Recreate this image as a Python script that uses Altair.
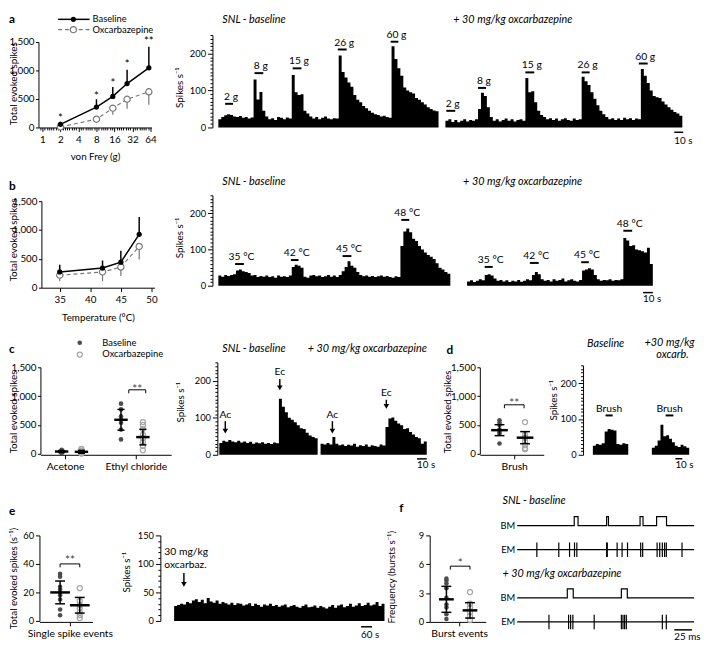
import altair as alt
import pandas as pd

FONT = "Lato"
NARROW = "Liberation Sans Narrow, Lato"
DARK = "#4d4d4d"
LIGHT = "#a6a6a6"
OXL = "#777777"

# ================= DATA =================
# (a) von Frey summary
vf_force = [2, 8, 15, 26, 60]
vf_base = [55, 357, 545, 770, 1046]
vf_base_hi = [100, 495, 712, 1012, 1414]
vf_oxc = [10, 145, 339, 495, 626]
vf_oxc_lo = [0, 95, 224, 328, 397]
vf_star_y = [195, 580, 810, 1143, 1546]
vf_star = ["*", "*", "*", "*", "**"]

# (a) von Frey traces (spikes/s, ~3 s bins)
vf_trace_base = [22, 28, 33, 36, 34, 30, 28, 31, 26, 28, 24, 27,
                 130, 76, 96, 45, 30,
                 22, 25, 20, 28, 26, 22, 27, 24,
                 142, 95, 88, 90, 45, 38, 30,
                 24, 28, 22, 26, 30, 24, 22, 25, 24,
                 195, 150, 135, 122, 110, 88, 75, 68, 58, 52, 45, 40, 36, 34, 30, 32, 28, 26,
                 220, 185, 160, 140, 108, 100, 95, 92, 80, 75, 68, 62, 55, 50, 46, 44]
vf_trace_oxc = [18, 22, 15, 20, 14, 18, 22, 16, 20, 18, 22,
                50, 94, 85, 55, 28,
                18, 22, 16, 20, 24, 18, 22, 16, 20, 22, 18,
                134, 95, 98, 68, 45, 34, 28,
                22, 25, 20, 24, 18, 22, 25, 20, 18, 24, 20, 22,
                137, 125, 115, 95, 78, 60, 45, 36, 28,
                22, 25, 20, 24, 20, 26, 22, 25, 20, 24, 22,
                158, 140, 120, 100, 85, 82, 80, 70, 62, 55, 48, 42, 38, 32]
vf_stim_lab = ["2 g", "8 g", "15 g", "26 g", "60 g"]
vf_stim_base_x0 = [2.3, 12.3, 25.3, 40.7, 58.7]
vf_stim_base_x1 = [5.0, 15.3, 28.3, 43.7, 61.3]
vf_stim_base_y = [64, 147, 160, 211, 232]
vf_stim_oxc_x0 = [0.3, 11.0, 27.0, 46.0, 65.3]
vf_stim_oxc_x1 = [3.3, 13.7, 30.0, 48.7, 68.3]
vf_stim_oxc_y = [45, 107, 149, 149, 173]

# (b) heat summary
heat_temp = [35, 42, 45, 48]
heat_base = [273, 341, 443, 926]
heat_base_hi = [398, 472, 642, 1227]
heat_oxc = [216, 273, 358, 716]
heat_oxc_lo = [114, 114, 205, 489]

# (b) heat traces
heat_trace_base = [28, 25, 30, 27, 30, 32,
                   42, 45, 40, 38, 35,
                   28, 30, 24, 27, 25, 28, 24, 26, 22, 28, 25, 26, 24, 28,
                   52, 58, 55, 50,
                   25, 22, 28, 30, 26, 28, 24, 26, 30, 25, 28, 24, 30,
                   40, 52, 68, 55, 50, 38,
                   30, 26, 28, 25, 27, 24, 26, 28, 25, 27, 24, 22, 26, 24,
                   110, 150, 158, 148, 130, 124, 110, 100, 92, 85, 80, 74, 62, 50, 45, 38, 33]
heat_trace_oxc = [12, 15, 10, 14, 18, 15,
                  30, 32, 28, 20,
                  14, 16, 12, 15, 10, 14, 12, 16, 11, 14, 18, 15,
                  30, 38, 32,
                  18, 14, 16, 12, 18, 14, 16, 20, 12, 15, 18, 14, 12, 16,
                  42, 45, 48, 45, 30,
                  18, 14, 16, 15, 18, 14, 16, 15, 18,
                  132, 125, 110, 112, 100, 98, 95, 92, 105, 60]
heat_stim_lab = ["35 °C", "42 °C", "45 °C", "48 °C"]
heat_stim_base_x0 = [5.7, 24.7, 42.3, 62.3]
heat_stim_base_x1 = [8.7, 27.3, 45.3, 65.0]
heat_stim_base_y = [60, 71, 82, 182]
heat_stim_oxc_x0 = [6.0, 21.3, 38.7, 53.0]
heat_stim_oxc_x1 = [8.7, 24.3, 41.3, 56.0]
heat_stim_oxc_y = [52, 63, 65, 152]

# (c) cold summary
c_cat_vals = [0, 1]
c_cat_labels = ["Acetone", "Ethyl chloride"]
c_x_base = [-0.05, 0.79]
c_x_oxc = [0.23, 1.1]
c_pts_base = [[70, 55, 45, 40, 30, 22, 12], [870, 770, 650, 600, 540, 420, 250]]
c_pts_oxc = [[85, 60, 40, 28, 20, 12, 5], [550, 500, 430, 330, 270, 200, 140, 60]]
c_mean_base = [40, 590]
c_sd_base = [18, 180]
c_mean_oxc = [35, 290]
c_sd_oxc = [25, 135]

# (c) cold traces
ec_trace_base = [32, 38, 35, 40, 36, 34, 38, 33, 36, 32, 35, 30, 33, 31, 34, 30, 32, 29, 33, 31,
                 152, 130, 115, 100, 95, 88, 80, 72, 70, 60, 52, 48, 45]
ec_trace_oxc = [30, 28, 32, 28, 48, 30, 26, 28, 24, 27, 25, 30, 22, 26, 24, 28, 22, 26, 24, 22, 28, 25,
                75, 98, 101, 92, 85, 80, 70, 72, 62, 55, 48, 45, 30, 36]
ec_arrow_lab = ["Ac", "Ec"]
ec_arrow_base_x = [2.0, 20.3]
ec_arrow_base_text = [107, 224]
ec_arrow_base_top = [91, 205]
ec_arrow_base_head = [64, 181]
ec_arrow_oxc_x = [4.0, 22.3]
ec_arrow_oxc_text = [107, 168]
ec_arrow_oxc_top = [91, 149]
ec_arrow_oxc_head = [64, 131]

# (d) brush
d_x_base = [-0.6]
d_x_oxc = [0.44]
d_pts_base = [[580, 540, 500, 420, 380, 350, 180]]
d_pts_oxc = [[550, 330, 280, 220, 150, 100, 80]]
d_mean_base = [410]
d_sd_base = [95]
d_mean_oxc = [280]
d_sd_oxc = [105]
brush_trace_base = [25, 30, 28, 32, 65, 72, 70, 68, 30, 28, 32, 30]
brush_trace_oxc = [20, 25, 40, 84, 52, 55, 45, 35, 25, 22, 28, 24, 20]

# (e) single spikes
e_x_base = [-0.4]
e_x_oxc = [0.4]
e_pts_base = [[33, 31, 24, 22, 20, 18, 15, 8, 4]]
e_pts_oxc = [[23, 14, 11, 9, 6, 4, 2]]
e_mean_base = [20]
e_sd_base = [8]
e_mean_oxc = [11]
e_sd_oxc = [5.5]
spont_trace = [26, 28, 30, 29, 33, 31, 36, 38, 33, 37, 31, 40, 34, 32, 36, 30, 33, 31, 29, 32,
               28, 31, 30, 27, 29, 31, 26, 30, 28, 25, 29, 27, 30, 26, 28, 25, 27, 29, 24, 26,
               28, 25, 23, 26, 29, 24, 25, 27, 23, 26, 24, 22, 25, 28, 23, 27, 29, 24, 26, 30,
               25, 27, 31, 26, 28, 32, 27, 29, 33, 26, 30]

# (f) bursts
f_x_base = [-0.52]
f_x_oxc = [0.44]
f_pts_base = [[4.5, 4.3, 4.0, 3.5, 2.5, 1.8, 1.5, 0.8, 0.3]]
f_pts_oxc = [[3.1, 1.9, 1.5, 1.0, 0.6, 0.2]]
f_mean_base = [2.35]
f_sd_base = [1.35]
f_mean_oxc = [1.2]
f_sd_oxc = [0.8]
bm1_on = [80.6, 126.4, 173.6, 197.0]
bm1_off = [86.0, 129.0, 177.8, 211.0]
em1 = [27.8, 58.8, 74.0, 81.0, 84.3, 126.4, 127.3, 141.2, 148.2, 155.9, 174.5, 177.3,
       197.7, 201.4, 205.1, 208.3, 210.7, 232.9]
bm2_on = [70.8, 147.2]
bm2_off = [79.2, 155.6]
em2 = [44.9, 72.6, 75.5, 78.7, 108.8, 147.2, 149.5, 151.8, 154.2, 205.1, 210.7]


# ================= HELPERS =================
def S(dom, rng):
    return alt.Scale(domain=dom, range=rng, nice=False, zero=False)


def one_row():
    return pd.DataFrame({"k": [0]})


def ptxt(t, x, y, size=10, align="left", baseline="middle", weight="normal", style="normal", color="black"):
    return alt.Chart(pd.DataFrame({"t": [t]})).mark_text(
        font=FONT, fontSize=size, align=align, baseline=baseline,
        fontWeight=weight, fontStyle=style, color=color,
    ).encode(x=alt.value(x), y=alt.value(y), text="t:N")


def prule(x1, x2, y, color="black", width=1.5, dash=None):
    kw = dict(color=color, strokeWidth=width)
    if dash:
        kw["strokeDash"] = dash
    return alt.Chart(one_row()).mark_rule(**kw).encode(
        x=alt.value(x1), x2=alt.value(x2), y=alt.value(y))


def pdot(x, y, **kw):
    return alt.Chart(one_row()).mark_point(shape="circle", opacity=1, **kw).encode(
        x=alt.value(x), y=alt.value(y))


def yax(values, title, tx, ty, mod=None, offset=0, talign="center", narrow=False):
    kw = dict(values=values, orient="left", title=title, titleX=tx, titleY=ty,
              titleAngle=270, titleAlign=talign, titleBaseline="bottom",
              labelOverlap=False, offset=offset, labelFontSize=9.5)
    if narrow:
        kw.update(labelFont=NARROW, labelFontSize=10, tickSize=3, labelPadding=1.5)
    if mod:
        kw["labelExpr"] = f"datum.value % {mod} === 0 ? datum.label : ''"
        kw["tickSize"] = {"condition": {"test": f"datum.value % {mod} === 0", "value": 5}, "value": 2.5}
    return alt.Axis(**kw)


def xax_cat(values, labels):
    expr = "''"
    for v, l in reversed(list(zip(values, labels))):
        expr = f"datum.value === {v} ? '{l}' : ({expr})"
    return alt.Axis(values=values, orient="bottom", title=None, labelExpr=expr,
                    labelOverlap=False, labelFlush=False, labelFontSize=10.5, labelPadding=3)


def hist_layers(vals, xr, ysc, yaxis=None, stim=None, sbar=None, arrows=None, stim_dx=2):
    n = len(vals)
    xsc = S([0, n], xr)
    X = lambda f: alt.X(f"{f}:Q", scale=xsc, axis=None)
    Y = lambda f: alt.Y(f"{f}:Q", scale=ysc, axis=yaxis)
    df = pd.DataFrame({"x": list(range(n + 1)), "v": list(vals) + [vals[-1]]})
    out = [alt.Chart(df).mark_area(interpolate="step-after", color="black").encode(
        x=X("x"), y=Y("v"), y2=alt.datum(0))]
    if stim:
        lab, x0, x1, y = stim
        sd = pd.DataFrame({"l": lab, "x0": x0, "x1": x1, "y": y})
        sd["xm"] = (sd["x0"] + sd["x1"]) / 2
        out.append(alt.Chart(sd).mark_rule(color="black", strokeWidth=2).encode(
            x=X("x0"), x2="x1:Q", y=Y("y")))
        out.append(alt.Chart(sd).mark_text(font=FONT, fontSize=10.5, baseline="alphabetic",
                                           dy=-4, dx=stim_dx).encode(
            x=X("xm"), y=Y("y"), text="l:N"))
    if sbar:
        x0, x1, y, lab, ty = sbar
        bd = pd.DataFrame({"x0": [x0], "x1": [x1], "y": [y], "l": [lab], "ty": [ty]})
        out.append(alt.Chart(bd).mark_rule(color="black", strokeWidth=1.5).encode(
            x=X("x0"), x2="x1:Q", y=Y("y")))
        out.append(alt.Chart(bd).mark_text(font=FONT, fontSize=10, align="left", baseline="middle").encode(
            x=X("x0"), y=Y("ty"), text="l:N"))
    if arrows:
        lab, ax, yt, ytop, yhead = arrows
        ad = pd.DataFrame({"l": lab, "x": ax, "yt": yt, "ytop": ytop, "yh": yhead})
        out.append(alt.Chart(ad).mark_text(font=FONT, fontSize=10.5, baseline="middle").encode(
            x=X("x"), y=Y("yt"), text="l:N"))
        out.append(alt.Chart(ad).mark_rule(color="black", strokeWidth=1.5).encode(
            x=X("x"), y=Y("ytop"), y2="yh:Q"))
        out.append(alt.Chart(ad).mark_point(shape="triangle-down", filled=True, color="black",
                                            size=32, opacity=1).encode(x=X("x"), y=Y("yh")))
    return out


def scatter_layers(xsc, ysc, xaxis, yaxis, xb, pb, mb, sb, xo, po, mo, so, mhw, chw, brk):
    pts_b = pd.DataFrame([(x, v) for x, vs in zip(xb, pb) for v in vs], columns=["x", "y"])
    pts_o = pd.DataFrame([(x, v) for x, vs in zip(xo, po) for v in vs], columns=["x", "y"])
    sm = pd.DataFrame({"x": xb + xo, "m": mb + mo, "s": sb + so})
    sm["lo"] = sm["m"] - sm["s"]
    sm["hi"] = sm["m"] + sm["s"]
    sm["xl"] = sm["x"] - mhw
    sm["xr"] = sm["x"] + mhw
    sm["cl"] = sm["x"] - chw
    sm["cr"] = sm["x"] + chw
    X = lambda f: alt.X(f"{f}:Q", scale=xsc, axis=xaxis)
    Y = lambda f: alt.Y(f"{f}:Q", scale=ysc, axis=yaxis)
    L = [
        alt.Chart(pts_b).mark_point(shape="circle", filled=True, color=DARK, size=22, opacity=1).encode(
            x=X("x"), y=Y("y")),
        alt.Chart(pts_o).mark_point(shape="circle", filled=False, color=LIGHT, size=26, strokeWidth=1.3,
                                    opacity=1).encode(x=X("x"), y=Y("y")),
        alt.Chart(sm).mark_rule(color="black", strokeWidth=1.5).encode(x=X("x"), y=Y("lo"), y2="hi:Q"),
        alt.Chart(sm).mark_rule(color="black", strokeWidth=1.5).encode(x=X("cl"), x2="cr:Q", y=Y("lo")),
        alt.Chart(sm).mark_rule(color="black", strokeWidth=1.5).encode(x=X("cl"), x2="cr:Q", y=Y("hi")),
        alt.Chart(sm).mark_rule(color="black", strokeWidth=2.5).encode(x=X("xl"), x2="xr:Q", y=Y("m")),
    ]
    bx0, bx1, by, btk, blab, bty = brk
    bd = pd.DataFrame({"x0": [bx0], "x1": [bx1], "y": [by], "yt": [by - btk],
                       "xm": [(bx0 + bx1) / 2], "ty": [bty], "l": [blab]})
    L += [
        alt.Chart(bd).mark_rule(color="black", strokeWidth=1).encode(x=X("x0"), x2="x1:Q", y=Y("y")),
        alt.Chart(bd).mark_rule(color="black", strokeWidth=1).encode(x=X("x0"), y=Y("y"), y2="yt:Q"),
        alt.Chart(bd).mark_rule(color="black", strokeWidth=1).encode(x=X("x1"), y=Y("y"), y2="yt:Q"),
        alt.Chart(bd).mark_text(font=FONT, fontSize=12, baseline="middle", dy=3, color="#444").encode(
            x=X("xm"), y=Y("ty"), text="l:N"),
    ]
    return L


def dummy(h):
    return alt.Chart(one_row()).mark_point(opacity=0).encode(
        x=alt.value(0), y=alt.value(0)).properties(width=1, height=h)


def line_layers(df, X, Y):
    base = alt.Chart(df)
    return [
        base.mark_line(color=OXL, strokeDash=[4, 3], strokeWidth=1.2).encode(x=X, y=Y("o")),
        base.mark_rule(color=OXL, strokeWidth=1.2).encode(x=X, y=Y("ol"), y2="o:Q"),
        base.mark_line(color="black", strokeWidth=1.5).encode(x=X, y=Y("b")),
        base.mark_rule(color="black", strokeWidth=1.5).encode(x=X, y=Y("b"), y2="bh:Q"),
        base.mark_point(shape="circle", filled=True, fill="white", stroke=OXL, strokeWidth=1.2,
                        size=40, opacity=1).encode(x=X, y=Y("o")),
        base.mark_point(shape="circle", filled=True, color="black", size=28, opacity=1).encode(x=X, y=Y("b")),
    ]


TITLE = dict(size=11, style="italic")
SPK = "Spikes s\u207b\u00b9"
# grid columns (left edges at page x 38, 162, 436, 525)
W0, W1, W2, W3 = 124, 274, 89, 180

# ================= ROW A =================
df_vf = pd.DataFrame({"f": vf_force, "b": vf_base, "bh": vf_base_hi, "o": vf_oxc,
                      "ol": vf_oxc_lo, "sy": vf_star_y, "s": vf_star})
vf_ticks = [2 ** (k / 8) for k in range(-1, 49)]
maj_test = "indexof([1,2,4,8,16,32,64], datum.value) >= 0"
ax_vf = alt.Axis(values=vf_ticks, orient="bottom", title="von Frey (g)", titlePadding=8,
                 labelExpr=f"{maj_test} ? format(datum.value, 'd') : ''",
                 tickSize={"condition": {"test": maj_test, "value": 4}, "value": 2.5},
                 labelOverlap=False, labelFlush=False, labelPadding=3)
Xa = alt.X("f:Q", scale=alt.Scale(type="log", base=2, domain=[0.86, 66.5], range=[0, 115], nice=False),
           axis=ax_vf)
ya = S([0, 1500], [94, 7])
ax_ya = yax([0, 500, 1000, 1500], "Total evoked spikes", -20, 49, narrow=True)
Ya = lambda f: alt.Y(f"{f}:Q", scale=ya, axis=ax_ya)
line_a = alt.layer(
    *line_layers(df_vf, Xa, Ya),
    alt.Chart(df_vf).mark_text(font=FONT, fontSize=11.5, baseline="middle", dy=3).encode(
        x=Xa, y=Ya("sy"), text="s:N"),
    ptxt("a", -30, -21, size=12, baseline="top", weight="bold"),
    prule(20, 52, -16),
    pdot(35.5, -16, filled=True, color="black", size=28),
    ptxt("Baseline", 55, -16, size=9.5),
    prule(20, 52, -5.5, color=OXL, width=1.2, dash=[4, 3]),
    pdot(35.5, -5.5, filled=True, fill="white", stroke=OXL, strokeWidth=1.2, size=40),
    ptxt("Oxcarbazepine", 55, -5.5, size=9.5),
).properties(width=W0, height=94)

ya_h = S([0, 250], [94, 0])
ax_ha = yax(list(range(0, 251, 10)), SPK, -28, 53, mod=100, offset=-53)
hist_a_base = alt.layer(
    *hist_layers(vf_trace_base, [59, 283], ya_h, ax_ha,
                 stim=(vf_stim_lab, vf_stim_base_x0, vf_stim_base_x1, vf_stim_base_y)),
    ptxt("SNL - baseline", 63, -15.5, **TITLE),
).resolve_scale(x="independent").properties(width=W1, height=94)
hist_a_oxc = alt.layer(
    *hist_layers(vf_trace_oxc, [16, 257], ya_h, None,
                 stim=(vf_stim_lab, vf_stim_oxc_x0, vf_stim_oxc_x1, vf_stim_oxc_y),
                 sbar=(77.3, 80.3, -13, "10 s", -37)),
    ptxt("+ 30 mg/kg oxcarbazepine", 24, -15.5, **TITLE),
).resolve_scale(x="independent").properties(width=W2, height=94)

# ================= ROW B =================
df_ht = pd.DataFrame({"f": heat_temp, "b": heat_base, "bh": heat_base_hi, "o": heat_oxc, "ol": heat_oxc_lo})
ax_xb = alt.Axis(values=[35, 40, 45, 50], orient="bottom", title="Temperature (°C)", titlePadding=8,
                 labelFlush=False, labelPadding=3)
Xb = alt.X("f:Q", scale=S([32, 50.5], [3, 118]), axis=ax_xb)
yb = S([0, 1500], [163, 75])
ax_yb = yax([0, 500, 1000, 1500], "Total evoked spikes", -23, 114, offset=-3, narrow=True)
Yb = lambda f: alt.Y(f"{f}:Q", scale=yb, axis=ax_yb)
line_b = alt.layer(
    *line_layers(df_ht, Xb, Yb),
    ptxt("b", -30, 60, size=12, weight="bold"),
).properties(width=W0, height=163)

yb_h = S([0, 250], [161, 69])
ax_hb = yax(list(range(0, 251, 10)), SPK, -28, 112, mod=100, offset=-53)
hist_b_base = alt.layer(
    *hist_layers(heat_trace_base, [59, 295], yb_h, ax_hb,
                 stim=(heat_stim_lab, heat_stim_base_x0, heat_stim_base_x1, heat_stim_base_y)),
    ptxt("SNL - baseline", 63, 56, **TITLE),
).resolve_scale(x="independent").properties(width=W1, height=163)
hist_b_oxc = alt.layer(
    *hist_layers(heat_trace_oxc, [38, 227], yb_h, None,
                 stim=(heat_stim_lab, heat_stim_oxc_x0, heat_stim_oxc_x1, heat_stim_oxc_y),
                 sbar=(59.7, 63.0, -19, "10 s", -38)),
    ptxt("+ 30 mg/kg oxcarbazepine", 34, 56, **TITLE),
).resolve_scale(x="independent").properties(width=W2, height=163)

# ================= ROW C =================
yc = S([0, 1500], [169, 81])
scatter_c = alt.layer(
    *scatter_layers(S([-0.35, 1.5], [2, 135]), yc, xax_cat(c_cat_vals, c_cat_labels),
                    yax([0, 500, 1000, 1500], "Total evoked spikes", -22, 126, offset=-2, narrow=True),
                    c_x_base, c_pts_base, c_mean_base, c_sd_base,
                    c_x_oxc, c_pts_oxc, c_mean_oxc, c_sd_oxc, 0.095, 0.05,
                    (0.9, 1.14, 1110, 60, "**", 1176)),
    ptxt("c", -30, 62, size=12, weight="bold"),
    pdot(42, 56, filled=True, color=DARK, size=22),
    ptxt("Baseline", 65, 56, size=9.5),
    pdot(42, 68, filled=False, color=LIGHT, size=26, strokeWidth=1.3),
    ptxt("Oxcarbazepine", 65, 68, size=9.5),
).properties(width=W0, height=170)

yc_h = S([0, 250], [170, 76])
ax_hc = yax(list(range(0, 251, 10)), SPK, -32, 116, mod=100, offset=-58)
hist_c = alt.layer(
    *hist_layers(ec_trace_base, [60, 160], yc_h, ax_hc,
                 arrows=(ec_arrow_lab, ec_arrow_base_x, ec_arrow_base_text, ec_arrow_base_top,
                         ec_arrow_base_head)),
    *hist_layers(ec_trace_oxc, [163, 271], yc_h, ax_hc,
                 arrows=(ec_arrow_lab, ec_arrow_oxc_x, ec_arrow_oxc_text, ec_arrow_oxc_top,
                         ec_arrow_oxc_head),
                 sbar=(32.7, 36.0, -11, "10 s", -29)),
    ptxt("SNL - baseline", 63, 62, **TITLE),
    ptxt("+ 30 mg/kg oxcarbazepine", 150, 62, **TITLE),
).resolve_scale(x="independent").properties(width=W1, height=170)

scatter_d = alt.layer(
    *scatter_layers(S([-1.4, 1.2], [51, 116]), yc, xax_cat([0], ["Brush"]),
                    yax([0, 500, 1000, 1500], "Total evoked spikes", -28, 126, offset=-51, narrow=True),
                    d_x_base, d_pts_base, d_mean_base, d_sd_base,
                    d_x_oxc, d_pts_oxc, d_mean_oxc, d_sd_oxc, 0.34, 0.2,
                    (-0.4, 0.4, 850, 60, "**", 935)),
    ptxt("d", 17, 63, size=12, weight="bold"),
).properties(width=W2, height=170)

yd_h = S([0, 250], [170, 79])
ax_hd = yax(list(range(0, 251, 10)), SPK, -25, 114, mod=100, offset=-67)
hist_d = alt.layer(
    *hist_layers(brush_trace_base, [77, 113], yd_h, ax_hd,
                 stim=(["Brush"], [4.3], [6.7], [110]), stim_dx=0),
    *hist_layers(brush_trace_oxc, [137, 175], yd_h, ax_hd,
                 stim=(["Brush"], [4.8], [7.5], [110]), stim_dx=0,
                 sbar=(8.2, 10.6, -11, "10 s", -29)),
    ptxt("Baseline", 90, 57, align="center", **TITLE),
    ptxt("+30 mg/kg", 155, 56, align="center", **TITLE),
    ptxt("oxcarb.", 158, 69, align="center", **TITLE),
).resolve_scale(x="independent").properties(width=W3, height=170)

# ================= ROW E =================
scatter_e = alt.layer(
    *scatter_layers(S([-1.24, 0.92], [1, 55]), S([0, 60], [169, 82]),
                    xax_cat([0], ["Single spike events"]),
                    yax([0, 20, 40, 60], "Total evoked spikes (s\u207b\u00b9)", -21, 177, offset=-1,
                        talign="left"),
                    e_x_base, e_pts_base, e_mean_base, e_sd_base,
                    e_x_oxc, e_pts_oxc, e_mean_oxc, e_sd_oxc, 0.4, 0.2,
                    (-0.4, 0.4, 40, 2.4, "**", 44.5)),
    ptxt("e", -30, 57, size=12, weight="bold"),
).properties(width=W0, height=170)

ye_h = S([0, 150], [169, 82])
ax_he = yax(list(range(0, 151, 10)), SPK, -29, 119, mod=50)
n_e = len(spont_trace)
xe_sc = S([0, n_e], [14, 228])
ann_e = pd.DataFrame({"l": ["30 mg/kg", "oxcarbaz."], "x": [-3.3, -3.3], "y": [121, 98]})
arr_e = pd.DataFrame({"x": [3.3], "ytop": [84], "yh": [64]})
hist_e = alt.layer(
    *hist_layers(spont_trace, [14, 228], ye_h, ax_he, sbar=(63.1, 66.8, -10.3, "60 s", -24)),
    alt.Chart(ann_e).mark_text(font=FONT, fontSize=10.5, align="left", baseline="middle").encode(
        x=alt.X("x:Q", scale=xe_sc, axis=None), y=alt.Y("y:Q", scale=ye_h, axis=ax_he), text="l:N"),
    alt.Chart(arr_e).mark_rule(color="black", strokeWidth=1.5).encode(
        x=alt.X("x:Q", scale=xe_sc, axis=None), y=alt.Y("ytop:Q", scale=ye_h, axis=ax_he), y2="yh:Q"),
    alt.Chart(arr_e).mark_point(shape="triangle-down", filled=True, color="black", size=32, opacity=1).encode(
        x=alt.X("x:Q", scale=xe_sc, axis=None), y=alt.Y("yh:Q", scale=ye_h, axis=ax_he)),
).resolve_scale(x="independent").properties(width=W1, height=170)

scatter_f = alt.layer(
    *scatter_layers(S([-1.2, 1.08], [0, 57]), S([0, 9], [170, 82]),
                    xax_cat([0], ["Burst events"]),
                    yax([0, 3, 6, 9], "Frequency (bursts s\u207b\u00b9)", -34, 124),
                    f_x_base, f_pts_base, f_mean_base, f_sd_base,
                    f_x_oxc, f_pts_oxc, f_mean_oxc, f_sd_oxc, 0.3, 0.2,
                    (-0.36, 0.44, 5.8, 0.36, "*", 6.4)),
    ptxt("f", -31, 54, size=12, weight="bold"),
).properties(width=W2, height=170)

# raster
xr_f = S([0, 250], [0, 180])
yr_f = S([0, 170 / 24.5], [170, 0])
XR = lambda f: alt.X(f"{f}:Q", scale=xr_f, axis=None)
YR = lambda f: alt.Y(f"{f}:Q", scale=yr_f, axis=None)


def bm_path(on, off, lvl, h=0.37):
    xs, ys = [0], [lvl]
    for a, b in zip(on, off):
        xs += [a, a, b, b]
        ys += [lvl, lvl + h, lvl + h, lvl]
    xs.append(250)
    ys.append(lvl)
    return pd.DataFrame({"t": xs, "v": ys, "i": list(range(len(xs)))})


def em_layers(times, lvl):
    base = pd.DataFrame({"t0": [0], "t1": [250], "v": [lvl]})
    sp = pd.DataFrame({"t": times, "lo": [lvl - 0.3] * len(times), "hi": [lvl + 0.3] * len(times)})
    return [
        alt.Chart(base).mark_rule(color="black", strokeWidth=1.2).encode(x=XR("t0"), x2="t1:Q", y=YR("v")),
        alt.Chart(sp).mark_rule(color="black", strokeWidth=1.2).encode(x=XR("t"), y=YR("lo"), y2="hi:Q"),
    ]


raster_lab = pd.DataFrame({"l": ["BM", "EM", "BM", "EM"], "v": [4, 3, 1, 0]})
raster_title = pd.DataFrame({"l": ["SNL - baseline", "+ 30 mg/kg oxcarbazepine"], "v": [5, 2]})
sbar_f = pd.DataFrame({"t0": [222], "t1": [247], "v": [-0.33], "tv": [-0.62], "l": ["25 ms"]})
raster_f = alt.layer(
    alt.Chart(bm_path(bm1_on, bm1_off, 4)).mark_line(color="black", strokeWidth=1.2).encode(
        x=XR("t"), y=YR("v"), order="i:Q"),
    alt.Chart(bm_path(bm2_on, bm2_off, 1)).mark_line(color="black", strokeWidth=1.2).encode(
        x=XR("t"), y=YR("v"), order="i:Q"),
    *em_layers(em1, 3),
    *em_layers(em2, 0),
    alt.Chart(raster_lab).mark_text(font=FONT, fontSize=9.5, align="right", baseline="middle").encode(
        x=alt.value(-2), y=YR("v"), text="l:N"),
    alt.Chart(raster_title).mark_text(font=FONT, fontSize=11, fontStyle="italic", align="left",
                                      baseline="middle").encode(x=alt.value(-15), y=YR("v"), text="l:N"),
    alt.Chart(sbar_f).mark_rule(color="black", strokeWidth=1.5).encode(x=XR("t0"), x2="t1:Q", y=YR("v")),
    alt.Chart(sbar_f).mark_text(font=FONT, fontSize=10, align="left", baseline="middle").encode(
        x=XR("t0"), y=YR("tv"), text="l:N"),
).properties(width=W3, height=170)

# ================= ASSEMBLE =================
panels = [
    line_a, hist_a_base, hist_a_oxc, dummy(94),
    line_b, hist_b_base, hist_b_oxc, dummy(163),
    scatter_c, hist_c, scatter_d, hist_d,
    scatter_e, hist_e, scatter_f, raster_f,
]
chart = alt.concat(*panels, columns=4, spacing=0, bounds="flush").properties(
    padding=0
).configure_view(stroke=None).configure_axis(
    domainColor="black", tickColor="black", labelColor="black", titleColor="black",
    labelFont=FONT, titleFont=FONT, labelFontSize=10, titleFontSize=10, titleFontWeight="normal",
    grid=False, domainWidth=1, tickWidth=1, labelPadding=2, tickSize=4,
)

chart.save("out.html", embed_options={"renderer": "svg", "actions": False})
